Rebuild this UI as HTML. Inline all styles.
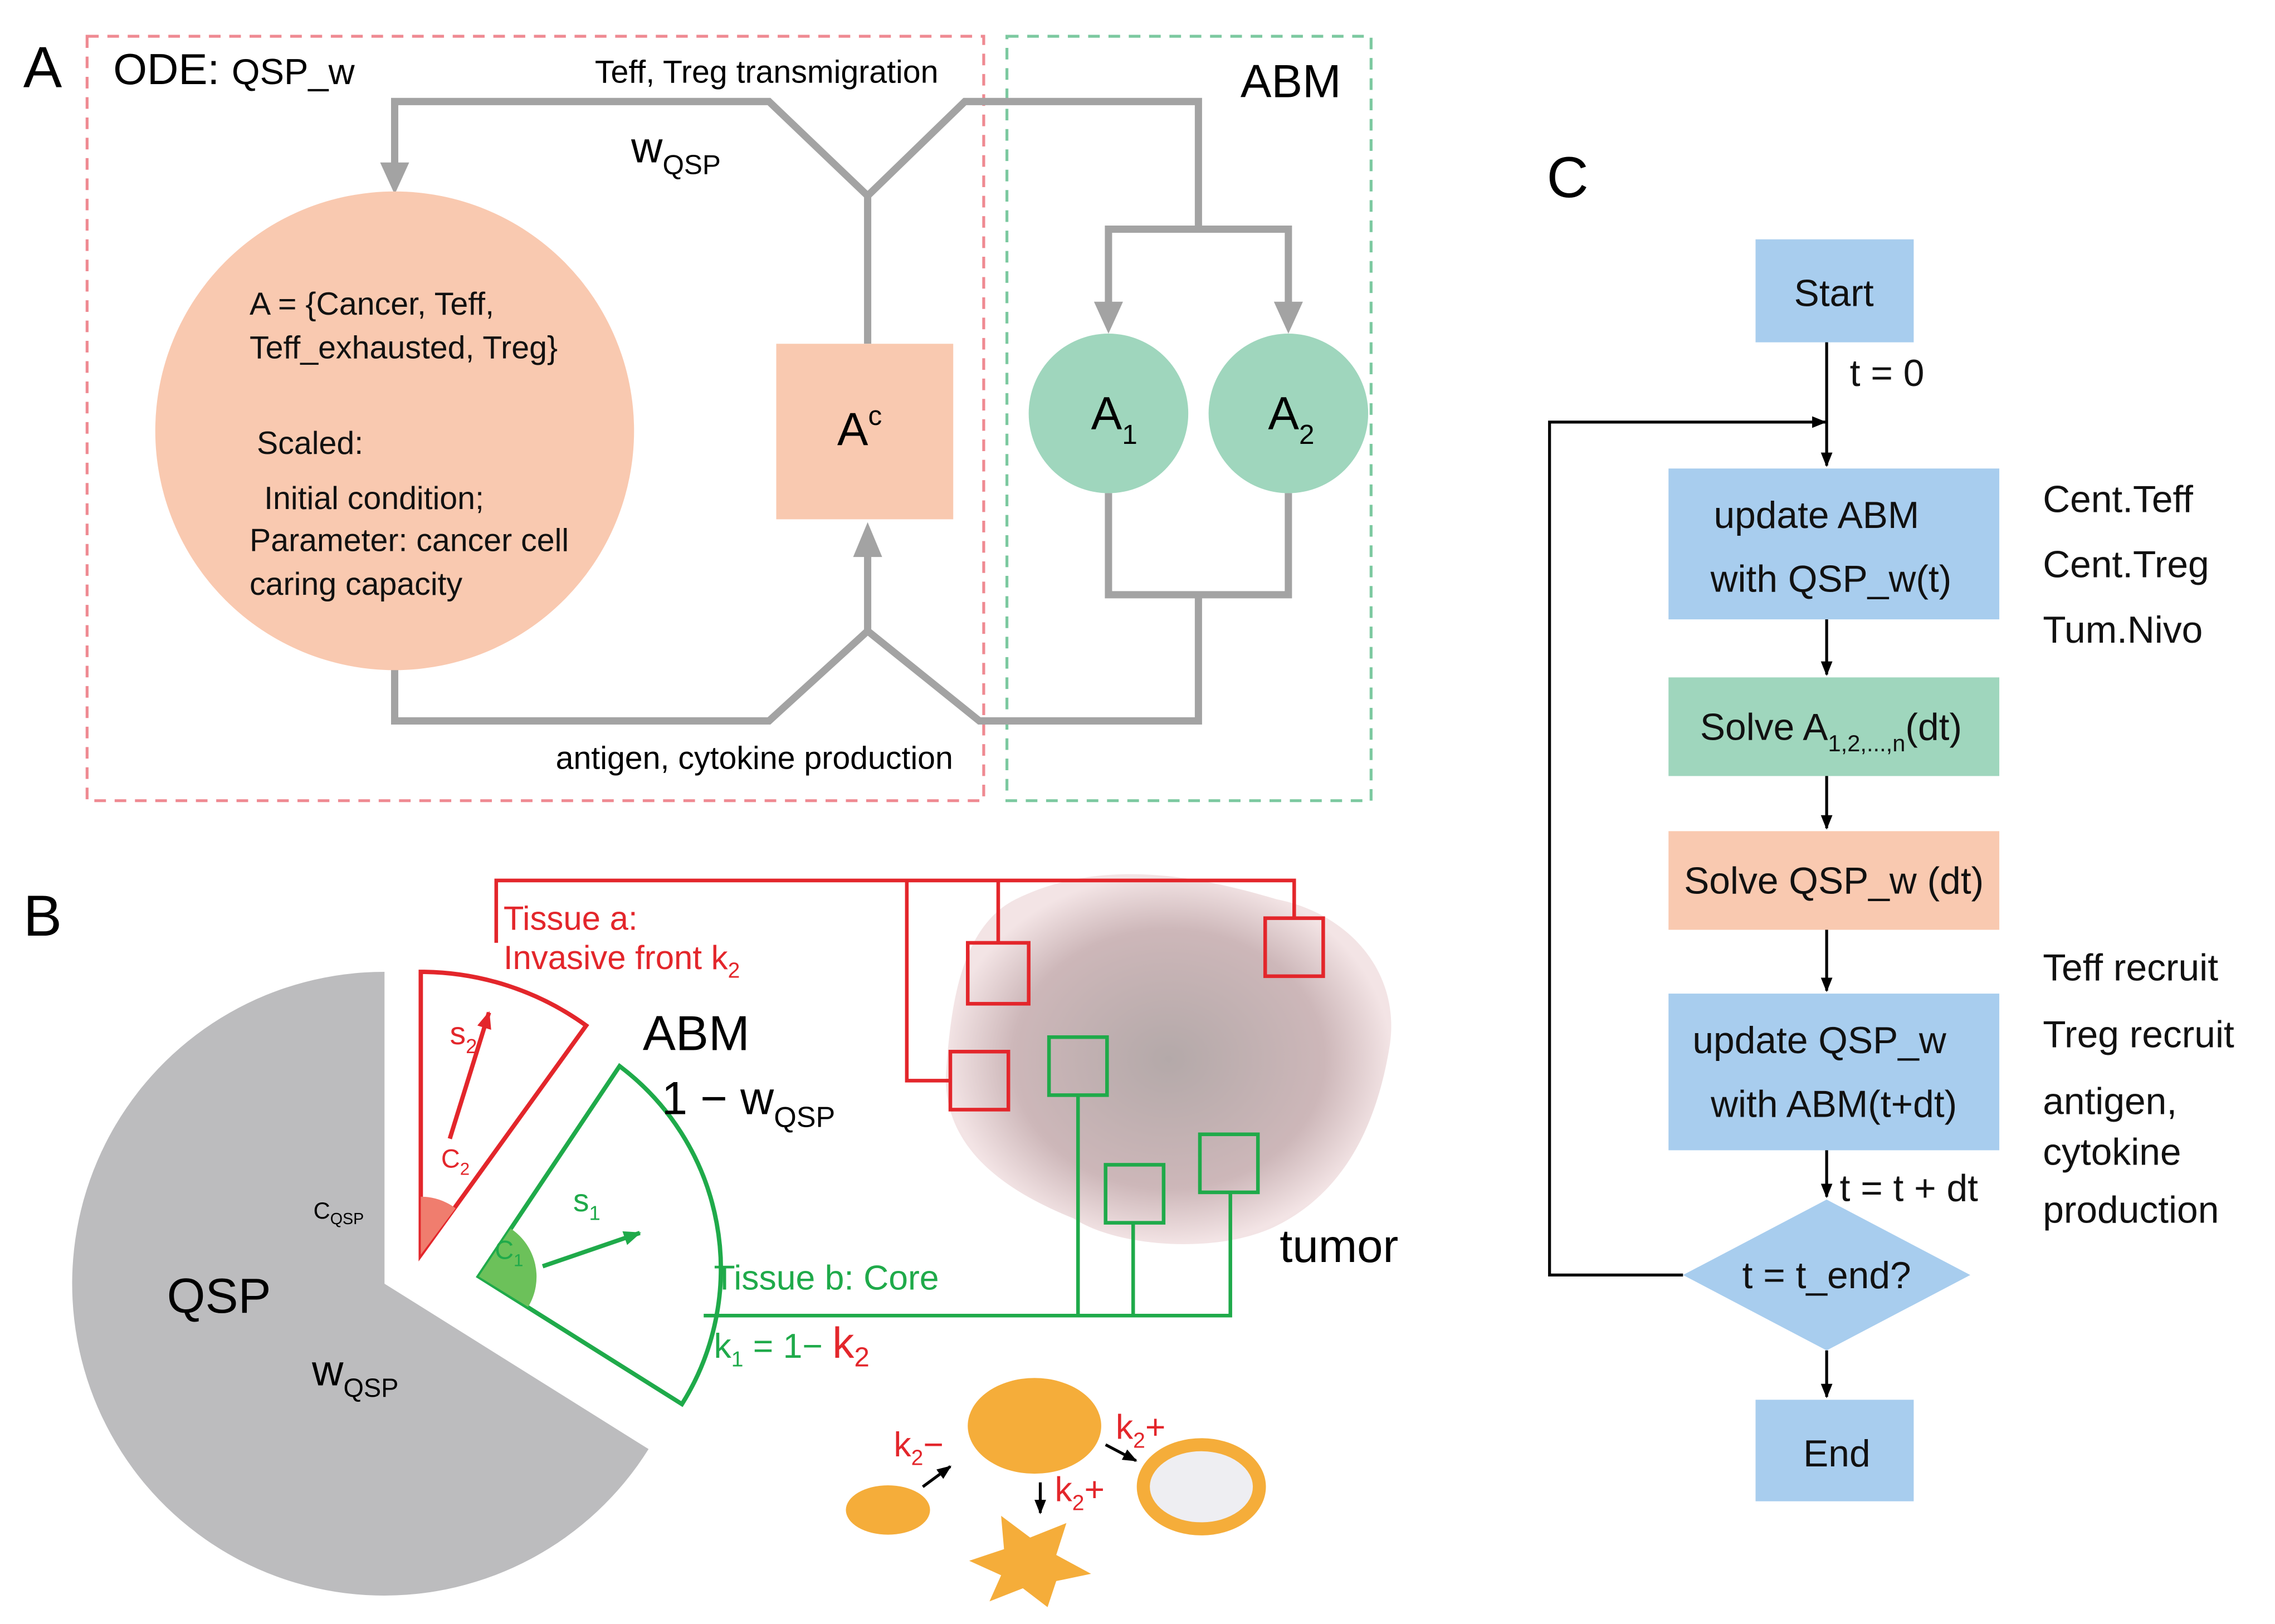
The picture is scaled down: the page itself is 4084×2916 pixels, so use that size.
<!DOCTYPE html>
<html><head><meta charset="utf-8"><style>
html,body{margin:0;padding:0;background:#fff;}
svg{display:block;}
text{font-family:"Liberation Sans",sans-serif;}
</style></head><body>
<svg width="4084" height="2916" viewBox="0 0 1568 1119.6" xmlns="http://www.w3.org/2000/svg">
<defs>
<marker id="ka" markerWidth="10" markerHeight="10" refX="9" refY="5" orient="auto" markerUnits="userSpaceOnUse"><path d="M0,1 L10,5 L0,9 z" fill="#000"/></marker>
<marker id="gr" markerWidth="12" markerHeight="10" refX="11" refY="5" orient="auto" markerUnits="userSpaceOnUse"><path d="M0,0 L12,5 L0,10 z" fill="#1faa4a"/></marker>
<marker id="rd" markerWidth="12" markerHeight="10" refX="11" refY="5" orient="auto" markerUnits="userSpaceOnUse"><path d="M0,0 L12,5 L0,10 z" fill="#e3262b"/></marker>
<radialGradient id="tum" cx="0.5" cy="0.5" r="0.5"><stop offset="0" stop-color="#b4a9a9"/><stop offset="0.7" stop-color="#cdb7b9"/><stop offset="1" stop-color="#f3e4e5"/></radialGradient>
</defs>

<!-- Panel A -->
<text x="16" y="60" font-size="40">A</text>
<rect x="60" y="25" width="618" height="527" fill="none" stroke="#ef8a92" stroke-width="2" stroke-dasharray="8,6"/>
<rect x="694" y="25" width="251" height="527" fill="none" stroke="#7cc9a0" stroke-width="2" stroke-dasharray="8,6"/>
<text x="78" y="58" font-size="30">ODE: <tspan font-size="25">QSP_w</tspan></text>
<text x="410" y="57" font-size="22">Teff, Treg transmigration</text>
<text x="855" y="67" font-size="32">ABM</text>
<text x="435" y="112" font-size="30">w<tspan font-size="19" dy="8">QSP</tspan></text>

<g fill="none" stroke="#a3a3a3" stroke-width="5" stroke-linejoin="miter">
<path d="M272,120 L272,70 L530,70 L598,135 L665,70 L826,70 L826,158"/>
<path d="M598,237 L598,135"/>
<path d="M764,215 L764,158 L888,158 L888,215"/>
<path d="M764,340 L764,410 L888,410 L888,340"/>
<path d="M826,410 L826,497 L675,497 L598,435 L530,497 L272,497 L272,460"/>
<path d="M598,435 L598,378"/>
</g>
<path d="M262,112 L282,112 L272,134 z" fill="#a3a3a3"/>
<path d="M754,208 L774,208 L764,230 z" fill="#a3a3a3"/>
<path d="M878,208 L898,208 L888,230 z" fill="#a3a3a3"/>
<path d="M588,384 L608,384 L598,360 z" fill="#a3a3a3"/>

<circle cx="272" cy="297" r="165" fill="#f9c9b0"/>
<g font-size="22" fill="#111">
<text x="172" y="217">A = {Cancer, Teff,</text>
<text x="172" y="247">Teff_exhausted, Treg}</text>
<text x="177" y="313">Scaled:</text>
<text x="182" y="351">Initial condition;</text>
<text x="172" y="380">Parameter: cancer cell</text>
<text x="172" y="410">caring capacity</text>
</g>
<rect x="535" y="237" width="122" height="121" fill="#f9c9b0"/>
<text x="577" y="307" font-size="32">A<tspan font-size="19" dy="-14">c</tspan></text>
<circle cx="764" cy="285" r="55" fill="#9fd6bd"/>
<circle cx="888" cy="285" r="55" fill="#9fd6bd"/>
<text x="752" y="296" font-size="32">A<tspan font-size="19" dy="10">1</tspan></text>
<text x="874" y="296" font-size="32">A<tspan font-size="19" dy="10">2</tspan></text>
<text x="383" y="530" font-size="22">antigen, cytokine production</text>

<!-- Panel C -->
<text x="1066" y="136" font-size="40">C</text>
<g fill="#a8cdee">
<rect x="1210" y="165" width="109" height="71"/>
<rect x="1150" y="323" width="228" height="104"/>
<rect x="1150" y="685" width="228" height="108"/>
<rect x="1210" y="965" width="109" height="70"/>
<path d="M1259,827 L1358,879 L1259,931 L1160,879 z"/>
</g>
<rect x="1150" y="467" width="228" height="68" fill="#9fd6bd"/>
<rect x="1150" y="573" width="228" height="68" fill="#f9c9b0"/>
<g font-size="26" fill="#111" text-anchor="middle">
<text x="1264" y="211">Start</text>
<text x="1252" y="364">update ABM</text>
<text x="1262" y="408">with QSP_w(t)</text>
<text x="1262" y="510">Solve A<tspan font-size="16" dy="8">1,2,...,n</tspan><tspan dy="-8">(dt)</tspan></text>
<text x="1264" y="616">Solve QSP_w (dt)</text>
<text x="1254" y="726">update QSP_w</text>
<text x="1264" y="770">with ABM(t+dt)</text>
<text x="1259" y="888">t = t_end?</text>
<text x="1266" y="1011">End</text>
</g>
<g stroke="#000" stroke-width="2" fill="none">
<path d="M1259,236 L1259,321" marker-end="url(#ka)"/>
<path d="M1259,427 L1259,465" marker-end="url(#ka)"/>
<path d="M1259,535 L1259,571" marker-end="url(#ka)"/>
<path d="M1259,641 L1259,683" marker-end="url(#ka)"/>
<path d="M1259,793 L1259,825" marker-end="url(#ka)"/>
<path d="M1259,931 L1259,963" marker-end="url(#ka)"/>
<path d="M1160,879 L1068,879 L1068,291 L1258,291" marker-end="url(#ka)"/>
</g>
<g font-size="26" fill="#111">
<text x="1275" y="266">t = 0</text>
<text x="1268" y="828">t = t + dt</text>
<text x="1408" y="353">Cent.Teff</text>
<text x="1408" y="398">Cent.Treg</text>
<text x="1408" y="443">Tum.Nivo</text>
<text x="1408" y="676">Teff recruit</text>
<text x="1408" y="722">Treg recruit</text>
<text x="1408" y="768">antigen,</text>
<text x="1408" y="803">cytokine</text>
<text x="1408" y="843">production</text>
</g>

<!-- Panel B -->
<text x="16" y="645" font-size="40">B</text>
<path d="M265,885 L265,670 A215,215 0 1 0 447,999 Z" fill="#bcbcbe"/>
<text x="216" y="840" font-size="16">C<tspan font-size="11" dy="4">QSP</tspan></text>
<text x="115" y="905" font-size="34">QSP</text>
<text x="215" y="955" font-size="30">w<tspan font-size="18" dy="8">QSP</tspan></text>

<path d="M290,865 L290,670 A195,195 0 0 1 404,707 Z" fill="#fff" stroke="#e3262b" stroke-width="3"/>
<path d="M290,865 L290,825 A40,40 0 0 1 314,833 Z" fill="#f07d6e"/>
<path d="M310,785 L337,698" stroke="#e3262b" stroke-width="3" marker-end="url(#rd)"/>
<text x="310" y="720" font-size="22" fill="#e3262b">s<tspan font-size="14" dy="6">2</tspan></text>
<text x="304" y="805" font-size="18" fill="#e3262b">C<tspan font-size="12" dy="5">2</tspan></text>
<path d="M330,880 L427,735 A175,175 0 0 1 470,968 Z" fill="#fff" stroke="#1faa4a" stroke-width="3"/>
<path d="M330,880 L352,847 A40,40 0 0 1 364,901 Z" fill="#6cc15a"/>
<path d="M374,873 L441,850" stroke="#1faa4a" stroke-width="3" marker-end="url(#gr)"/>
<text x="395" y="835" font-size="22" fill="#1faa4a">s<tspan font-size="14" dy="6">1</tspan></text>
<text x="341" y="868" font-size="18" fill="#1faa4a">C<tspan font-size="12" dy="5">1</tspan></text>

<text x="443" y="724" font-size="34">ABM</text>
<text x="456" y="768" font-size="32">1 − w<tspan font-size="20" dy="9">QSP</tspan></text>
<text x="347" y="641" font-size="23" fill="#e3262b">Tissue a:</text>
<text x="347" y="668" font-size="23" fill="#e3262b">Invasive front  k<tspan font-size="15" dy="6">2</tspan></text>
<text x="492" y="889" font-size="24" fill="#1faa4a">Tissue b: Core</text>
<text x="492" y="936" font-size="24" fill="#1faa4a">k<tspan font-size="15" dy="6">1</tspan><tspan dy="-6"> = 1− </tspan><tspan fill="#e3262b" font-size="30">k</tspan><tspan fill="#e3262b" font-size="19" dy="6">2</tspan></text>

<path d="M700,620 C760,590 830,605 880,620 C930,630 965,670 958,720 C950,770 930,820 880,845 C840,865 770,860 740,840 C690,820 650,790 652,740 C655,700 660,640 700,620 Z" fill="url(#tum)"/>
<text x="882" y="870" font-size="32">tumor</text>

<g fill="none" stroke="#e3262b" stroke-width="2.5">
<path d="M342,650 L342,607 L892,607 L892,633"/>
<path d="M688,607 L688,650"/>
<path d="M625,607 L625,745 L655,745"/>
<rect x="667" y="650" width="42" height="42"/>
<rect x="872" y="633" width="40" height="40"/>
<rect x="655" y="725" width="40" height="40"/>
</g>
<g fill="none" stroke="#1faa4a" stroke-width="2.5">
<path d="M485,907 L848,907 L848,822"/>
<path d="M743,907 L743,755"/>
<path d="M781,907 L781,843"/>
<rect x="723" y="715" width="40" height="40"/>
<rect x="762" y="803" width="40" height="40"/>
<rect x="827" y="782" width="40" height="40"/>
</g>

<ellipse cx="713" cy="983" rx="46" ry="33" fill="#f5ad3a"/>
<ellipse cx="612" cy="1041" rx="29" ry="17" fill="#f5ad3a"/>
<ellipse cx="828" cy="1025" rx="40" ry="29" fill="#eeeef2" stroke="#f5ad3a" stroke-width="9"/>
<path d="M690,1045 L710,1060 L735,1050 L728,1072 L752,1085 L728,1090 L722,1108 L705,1095 L682,1104 L690,1086 L668,1076 L692,1068 Z" fill="#f5ad3a"/>
<g stroke="#000" stroke-width="2" fill="none">
<path d="M636,1025 L655,1011" marker-end="url(#ka)"/>
<path d="M717,1022 L717,1043" marker-end="url(#ka)"/>
<path d="M762,996 L783,1007" marker-end="url(#ka)"/>
</g>
<g font-size="24" fill="#e3262b">
<text x="616" y="1004">k<tspan font-size="15" dy="6">2</tspan><tspan dy="-6">−</tspan></text>
<text x="727" y="1035">k<tspan font-size="15" dy="6">2</tspan><tspan dy="-6">+</tspan></text>
<text x="769" y="992">k<tspan font-size="15" dy="6">2</tspan><tspan dy="-6">+</tspan></text>
</g>
</svg>
</body></html>
